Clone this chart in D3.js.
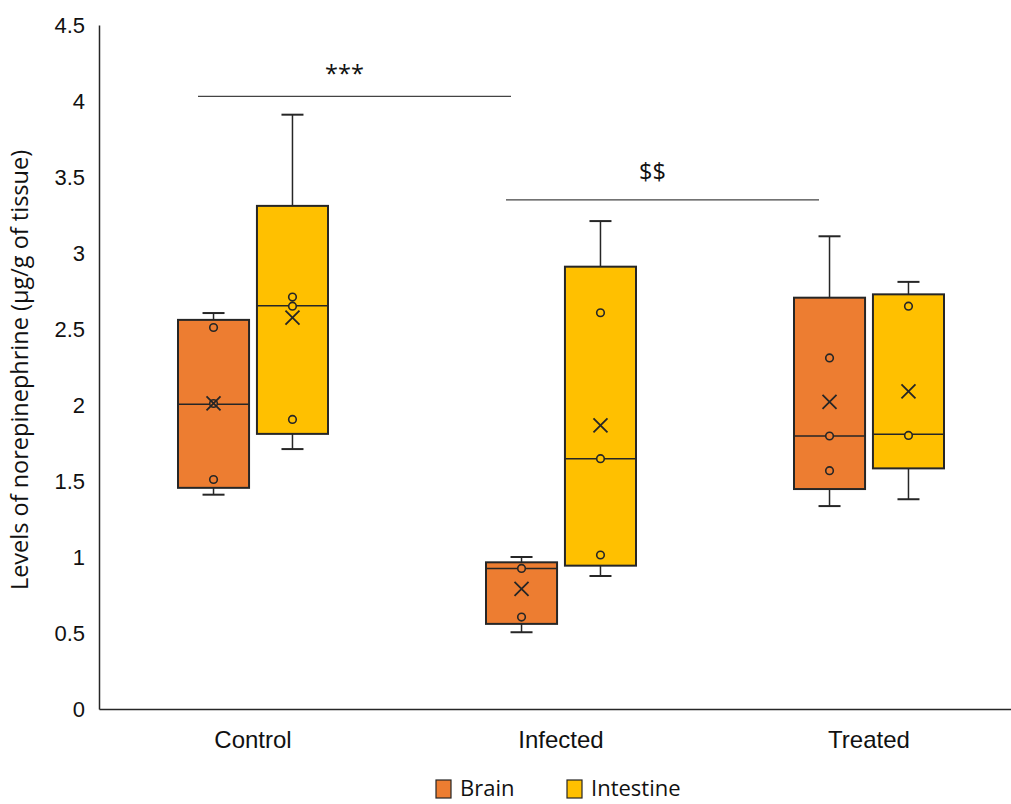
<!DOCTYPE html>
<html>
<head>
<meta charset="utf-8">
<script src="https://cdn.jsdelivr.net/npm/d3@7"></script>
<style>
    body { margin: 0; background: #fff; }
    svg { display: block; font-family: 'Open Sans', 'Noto Sans', sans-serif; }
</style>
</head>
<body>
<svg id="chart" width="1011" height="804"></svg>
<script>
const CATEGORIES = ['Control', 'Infected', 'Treated'];
const SERIES = ['Brain', 'Intestine'];
const COLORS = ['#ed7d31', '#ffc000'];
const Y_TICKS = [0, 0.5, 1, 1.5, 2, 2.5, 3, 3.5, 4, 4.5];

// per category: [min, q1, median, q3, max]
const brainStats = [
    [1.41, 1.455, 2.005, 2.56, 2.605],
    [0.505, 0.56, 0.925, 0.965, 1.0],
    [1.335, 1.447, 1.796, 2.706, 3.11],
];
const brainMeans = [2.01, 0.79, 2.02];
const brainPoints = [
    [2.51, 2.01, 1.51],
    [0.925, 0.605],
    [2.31, 1.796, 1.568],
];

const intestineStats = [
    [1.71, 1.81, 2.653, 3.31, 3.91],
    [0.875, 0.943, 1.647, 2.91, 3.21],
    [1.38, 1.583, 1.807, 2.728, 2.81],
];
const intestineMeans = [2.575, 1.866, 2.09];
const intestinePoints = [
    [2.71, 2.65, 1.905],
    [2.607, 1.647, 1.013],
    [2.65, 1.8],
];

// [from, to, value, label]
const SIGNIFICANCE = [
    ['Control', 'Infected', 4.03, '***'],
    ['Infected', 'Treated', 3.35, '$$'],
];

const boxes = [];
[[brainStats, brainMeans, brainPoints], [intestineStats, intestineMeans, intestinePoints]].forEach(
    ([stats, means, pts], s) => {
        CATEGORIES.forEach((category, i) => {
            const [min, q1, median, q3, max] = stats[i];
            boxes.push({
                category,
                series: SERIES[s],
                min,
                q1,
                median,
                q3,
                max,
                mean: means[i],
                points: pts[i],
            });
        });
    },
);

const margin = { top: 25, right: -12, bottom: 95, left: 99 };
const width = 1011;
const height = 804;

const x = d3
    .scaleBand()
    .domain(CATEGORIES)
    .range([margin.left, width - margin.right]);
const center = x.bandwidth() / 2;
const xSub = d3
    .scaleBand()
    .domain(SERIES)
    .range([center - 75, center + 75])
    .paddingInner(0.1);
const y = d3
    .scaleLinear()
    .domain([0, 4.5])
    .range([height - margin.bottom, margin.top]);
const color = d3.scaleOrdinal().domain(SERIES).range(COLORS);

const svg = d3.select('#chart');
const ink = '#262626';

// Axes
svg.append('g')
    .attr('transform', `translate(${margin.left},0)`)
    .call(d3.axisLeft(y).tickValues(Y_TICKS).tickSize(0).tickPadding(14).tickFormat(d3.format('')))
    .call(g => g.select('.domain').attr('stroke', ink).attr('stroke-width', 1.5))
    .call(g => g.selectAll('text').attr('font-size', 22).attr('fill', '#111'));

svg.append('g')
    .attr('transform', `translate(0,${y(0)})`)
    .call(d3.axisBottom(x).tickSize(0).tickPadding(22))
    .call(g => g.select('.domain').attr('stroke', ink).attr('stroke-width', 1.5))
    .call(g => g.selectAll('text').attr('font-size', 24).attr('fill', '#111'));

svg.append('text')
    .attr('transform', `translate(28,${(y(0) + y(4.5)) / 2 + 3}) rotate(-90)`)
    .attr('text-anchor', 'middle')
    .attr('font-size', 23.5)
    .attr('fill', '#111')
    .text('Levels of norepinephrine (µg/g of tissue)');

// Boxes
const bw = xSub.bandwidth();
const cap = 22;
const box = svg
    .append('g')
    .selectAll('g')
    .data(boxes)
    .join('g')
    .attr('transform', d => `translate(${x(d.category) + xSub(d.series)},0)`);

box.append('line')
    .attr('x1', bw / 2)
    .attr('x2', bw / 2)
    .attr('y1', d => y(d.max))
    .attr('y2', d => y(d.min))
    .attr('stroke', ink)
    .attr('stroke-width', 1.5);

box.selectAll('.cap')
    .data(d => [d.min, d.max])
    .join('line')
    .attr('class', 'cap')
    .attr('x1', bw / 2 - cap / 2)
    .attr('x2', bw / 2 + cap / 2)
    .attr('y1', d => y(d))
    .attr('y2', d => y(d))
    .attr('stroke', ink)
    .attr('stroke-width', 2);

box.append('rect')
    .attr('x', 0)
    .attr('width', bw)
    .attr('y', d => y(d.q3))
    .attr('height', d => y(d.q1) - y(d.q3))
    .attr('fill', d => color(d.series))
    .attr('stroke', ink)
    .attr('stroke-width', 2);

box.append('line')
    .attr('x1', 0)
    .attr('x2', bw)
    .attr('y1', d => y(d.median))
    .attr('y2', d => y(d.median))
    .attr('stroke', ink)
    .attr('stroke-width', 1.5);

box.selectAll('circle')
    .data(d => d.points.map(v => ({ v, series: d.series })))
    .join('circle')
    .attr('cx', bw / 2)
    .attr('cy', d => y(d.v))
    .attr('r', 3.8)
    .attr('fill', d => color(d.series))
    .attr('stroke', ink)
    .attr('stroke-width', 1.6);

const xs = 7;
box.append('path')
    .attr(
        'd',
        d => `M${bw / 2 - xs},${y(d.mean) - xs}L${bw / 2 + xs},${y(d.mean) + xs}` +
            `M${bw / 2 - xs},${y(d.mean) + xs}L${bw / 2 + xs},${y(d.mean) - xs}`,
    )
    .attr('stroke', ink)
    .attr('stroke-width', 1.8)
    .attr('fill', 'none');

// Significance bars
const sig = svg.append('g').selectAll('g').data(SIGNIFICANCE).join('g');
const sigX1 = d => x(d[0]) + center - 55;
const sigX2 = d => x(d[1]) + center - 50;

sig.append('line')
    .attr('x1', sigX1)
    .attr('x2', sigX2)
    .attr('y1', d => y(d[2]))
    .attr('y2', d => y(d[2]))
    .attr('stroke', '#444')
    .attr('stroke-width', 1.3);

sig.append('text')
    .attr('x', d => (sigX1(d) + sigX2(d)) / 2 - 10)
    .attr('y', (d, i) => y(d[2]) - (i === 0 ? 14 : 20))
    .attr('text-anchor', 'middle')
    .attr('font-size', 23.5)
    .attr('fill', '#111')
    .text(d => d[3]);

// Legend
const legend = svg
    .append('g')
    .selectAll('g')
    .data(SERIES)
    .join('g')
    .attr('transform', (d, i) => `translate(${436 + i * 131},780)`);

legend.append('rect')
    .attr('width', 15)
    .attr('height', 18)
    .attr('fill', d => color(d))
    .attr('stroke', ink)
    .attr('stroke-width', 1.2);

legend.append('text')
    .attr('x', 24)
    .attr('y', 16)
    .attr('font-size', 22)
    .attr('fill', '#111')
    .text(d => d);
</script>
</body>
</html>
